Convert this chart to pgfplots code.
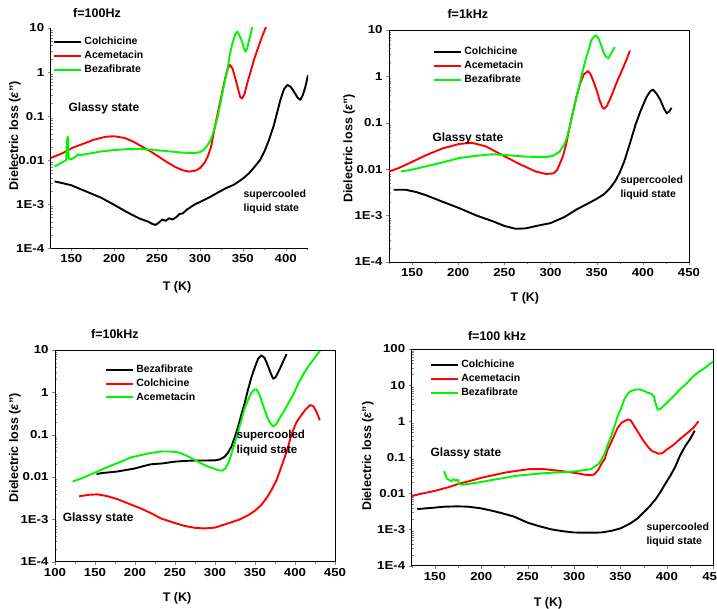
\documentclass[border=0pt]{standalone}
\usepackage{pgfplots}
\pgfplotsset{compat=1.18}
\usepackage{fontspec}
\setmainfont{Liberation Sans}
\setsansfont{Liberation Sans}
\newfontfamily\tickfont{Liberation Sans}[FakeStretch=1.15]
\definecolor{lgreen}{RGB}{0,245,0}
\definecolor{lred}{RGB}{255,0,0}
\newcommand{\fs}[1]{\fontsize{#1}{#1}\selectfont}
\pgfplotsset{
  every axis/.append style={
    scale only axis, ymode=log, log basis y=10,
    tick align=outside, xtick pos=bottom, ytick pos=left,
    ticklabel style={font=\tickfont\bfseries\fs{11.5}},
    xtick={100,150,...,450}, minor x tick num=1,
    xticklabel={\pgfmathparse{int(\tick)}\pgfmathresult},
    ytick={1e-4,1e-3,0.01,0.1,1,10,100},
    yticklabels={1E-4,1E-3,0.01,0.1,1,10,100},
    minor ytick={2e-4,3e-4,4e-4,5e-4,6e-4,7e-4,8e-4,9e-4,2e-3,3e-3,4e-3,5e-3,6e-3,7e-3,8e-3,9e-3,0.02,0.03,0.04,0.05,0.06,0.07,0.08,0.09,0.2,0.3,0.4,0.5,0.6,0.7,0.8,0.9,2,3,4,5,6,7,8,9,20,30,40,50,60,70,80,90},
    minor y tick style={xshift=2pt},
    ymin=1e-4,
    major tick length=3pt, minor tick length=2pt,
    axis line style={line width=0.6pt},
    xlabel={T (K)}, ylabel={Dielectric loss (\textit{ε}'')},
    label style={font=\bfseries\fs{12.5}},
    title style={font=\bfseries\fs{12.5}, anchor=center},
    legend style={draw=none, fill=none, font=\bfseries\fs{10.5}, inner sep=0pt, row sep=0.8pt, cells={anchor=west}},
  },
  every axis plot/.append style={line width=1.9pt, no marks, line join=round},
  every axis x label/.style={anchor=center},
  every axis y label/.style={anchor=center, rotate=90},
  legend image code/.code={\draw[#1, line width=2pt] (0pt,0pt) -- (27pt,0pt);},
}
\tikzset{
  glassy/.style={font=\bfseries\fs{12}},
  super/.style={font=\bfseries\fontsize{10.5}{14}\selectfont, align=left, anchor=west},
}
\begin{document}
\begin{tikzpicture}
\useasboundingbox (0pt,0pt) rectangle (717pt,-609pt);

% ---------------- f = 100 Hz ----------------
\begin{axis}[at={(50.7pt,-28pt)}, anchor=north west,
  width=257.3pt, height=220.3pt, xmin=126, xmax=426, ymax=10,
  axis x line*=bottom, axis y line*=left,
  title={f=100Hz}, title style={at={(axis description cs:0.18,1.041)}},
  xlabel style={at={(axis description cs:0.491,-0.176)}},
  ylabel style={at={(axis description cs:-0.139,0.51)}},
  legend style={at={(axis description cs:0.01,0.968)}, anchor=north west}]
\addplot[black] coordinates {(130.5,3.3e-3) (140,3.0e-3) (150,2.7e-3) (166,2.0e-3) (185,1.4e-3) (200,0.97e-3) (215,0.66e-3) (230,0.47e-3) (240,0.40e-3) (244,0.36e-3) (248,0.34e-3) (252,0.38e-3) (256,0.45e-3) (260,0.42e-3) (264,0.48e-3) (268,0.45e-3) (273,0.52e-3) (276,0.60e-3) (280,0.62e-3) (285,0.76e-3) (290,0.88e-3) (295,1.02e-3) (300,1.12e-3) (310,1.4e-3) (320,1.8e-3) (330,2.3e-3) (340,2.8e-3) (350,3.8e-3) (357,5.0e-3) (363,6.8e-3) (370,0.010) (375,0.0155) (380,0.027) (386,0.060) (390,0.12) (394,0.24) (398,0.41) (402,0.51) (406,0.46) (410,0.35) (414,0.26) (417,0.235) (420,0.30) (423,0.47) (426,0.85)};
\addplot[lred] coordinates {(126,0.0112) (140,0.0145) (150,0.0186) (165,0.024) (176,0.029) (190,0.034) (200,0.035) (212,0.032) (223,0.026) (235,0.019) (242,0.016) (252,0.012) (262,0.0089) (272,0.0069) (280,0.0059) (287,0.0055) (295,0.0058) (300,0.0066) (305,0.0085) (309,0.012) (313,0.020) (316,0.041) (320,0.10) (324,0.23) (328,0.55) (332,1.15) (335,1.45) (338,1.2) (341,0.75) (344,0.45) (347,0.27) (349,0.25) (352,0.32) (355,0.55) (359,1.0) (363,1.9) (367,3.2) (371,5.3) (374,7.6) (377,10.5)};
\addplot[lgreen] coordinates {(130.5,0.0072) (136,0.0082) (141,0.0093) (144,0.0100) (145,0.030) (146,0.034) (147,0.011) (150,0.0105) (155,0.0120) (158,0.0135) (160,0.0130) (170,0.0140) (185,0.0158) (200,0.0170) (215,0.0178) (230,0.0180) (245,0.0172) (262,0.0160) (280,0.0148) (293,0.0145) (300,0.0152) (305,0.0175) (309,0.022) (313,0.030) (316,0.045) (320,0.085) (324,0.20) (328,0.50) (332,1.1) (335,2.6) (338,4.6) (341,7.0) (343.5,8.3) (346,6.8) (349,5.0) (351,3.6) (353,2.9) (355,3.4) (357,5.0) (359,7.2) (361,10.5)};
\legend{Colchicine,Acemetacin,Bezafibrate}
\node[glassy] at (axis description cs:0.207,0.637) {Glassy state};
\node[super] at (axis description cs:0.736,0.21) {supercooled\\liquid state};
\end{axis}

% ---------------- f = 1 kHz ----------------
\begin{axis}[at={(389pt,-30pt)}, anchor=north west,
  width=300pt, height=232pt, xmin=125, xmax=450, ymax=10,
  title={f=1kHz}, title style={at={(axis description cs:0.263,1.043)}},
  xlabel style={at={(axis description cs:0.453,-0.155)}},
  ylabel style={at={(axis description cs:-0.133,0.49)}},
  legend style={at={(axis description cs:0.147,0.935)}, anchor=north west}]
\addplot[black] coordinates {(130,3.6e-3) (143,3.6e-3) (155,3.2e-3) (165,2.75e-3) (180,2.1e-3) (201,1.45e-3) (220,1.0e-3) (237,0.76e-3) (250,0.60e-3) (262,0.52e-3) (273,0.53e-3) (285,0.60e-3) (300,0.69e-3) (315,0.93e-3) (328,1.35e-3) (340,1.8e-3) (350,2.3e-3) (358,2.9e-3) (364,3.8e-3) (370,5.5e-3) (375,8.5e-3) (380,0.015) (386,0.036) (392,0.09) (397,0.17) (404,0.36) (408,0.48) (411,0.52) (415,0.42) (419,0.31) (423,0.20) (426,0.16) (429,0.18) (431,0.21)};
\addplot[lred] coordinates {(125,0.0089) (135,0.0105) (147,0.0135) (165,0.020) (183,0.028) (201,0.035) (215,0.037) (230,0.031) (248,0.020) (266,0.013) (284,0.0089) (295,0.0079) (303,0.0081) (307,0.0095) (310,0.013) (313.4,0.019) (317,0.035) (320.6,0.080) (324,0.16) (328,0.36) (332,0.70) (336,1.1) (340.6,1.3) (343,1.15) (346,0.83) (350,0.50) (353,0.31) (356,0.22) (358,0.20) (361,0.23) (364,0.31) (368,0.48) (371,0.69) (375,1.05) (379,1.6) (383,2.5) (386,3.6)};
\addplot[lgreen] coordinates {(137.7,0.0089) (150,0.0098) (165,0.0115) (180,0.0135) (201,0.0174) (220,0.0195) (237,0.021) (255,0.020) (273.5,0.0186) (295,0.0182) (303,0.0195) (309.8,0.024) (314,0.032) (317,0.043) (320,0.07) (324,0.16) (328,0.35) (331.5,0.69) (335,1.35) (338.8,2.6) (342,4.2) (344,5.9) (347,7.2) (349.6,7.6) (352,6.5) (355,4.6) (358,3.1) (360.5,2.6) (363,2.5) (366,3.2) (369.6,4.3)};
\legend{Colchicine,Acemetacin,Bezafibrate}
\node[glassy] at (axis description cs:0.263,0.534) {Glassy state};
\node[super] at (axis description cs:0.76,0.319) {supercooled\\liquid state};
\end{axis}

% ---------------- f = 10 kHz ----------------
\begin{axis}[at={(55pt,-350pt)}, anchor=north west,
  width=280pt, height=211.7pt, xmin=100, xmax=450, ymax=10,
  title={f=10kHz}, title style={at={(axis description cs:0.214,1.047)}},
  xlabel style={at={(axis description cs:0.436,-0.171)}},
  ylabel style={at={(axis description cs:-0.143,0.537)}},
  legend style={at={(axis description cs:0.179,0.939)}, anchor=north west}]
\addplot[black] coordinates {(152,0.0118) (160,0.0125) (170,0.0130) (178,0.0135) (190,0.0148) (199,0.0158) (210,0.0180) (220,0.020) (235,0.021) (249,0.023) (262,0.024) (274.5,0.0245) (287,0.0245) (300,0.0248) (306,0.026) (312,0.030) (316,0.037) (320.5,0.052) (325,0.09) (328.9,0.155) (333,0.30) (337,0.55) (341,1.1) (345.6,2.3) (350,4.0) (354,6.3) (358,7.5) (362,6.5) (366.5,4.1) (370,2.7) (372.8,2.1) (376,2.3) (379,3.0) (383,4.3) (386,5.8) (389.5,8.0)};
\addplot[lred] coordinates {(130,3.5e-3) (142,3.8e-3) (153,3.9e-3) (165,3.55e-3) (178,3.0e-3) (192,2.35e-3) (207.5,1.8e-3) (220,1.4e-3) (232.6,1.05e-3) (247,0.85e-3) (262,0.70e-3) (275,0.63e-3) (287,0.61e-3) (300,0.64e-3) (316,0.80e-3) (330,0.98e-3) (341.4,1.25e-3) (350,1.6e-3) (358,2.2e-3) (365,3.3e-3) (370.7,5.0e-3) (377,8.5e-3) (383,0.0175) (390,0.042) (396,0.107) (402,0.20) (408,0.29) (413,0.39) (419,0.50) (423,0.47) (427,0.34) (431,0.22)};
\addplot[lgreen] coordinates {(122,0.0078) (135,0.0096) (153,0.0135) (168,0.018) (182.4,0.023) (195,0.029) (207.5,0.033) (220,0.037) (232.6,0.040) (245,0.040) (255,0.038) (266,0.031) (277,0.024) (287,0.019) (298,0.016) (305,0.0143) (309,0.0142) (313,0.0160) (317,0.022) (320.5,0.035) (324.7,0.063) (329,0.12) (333,0.22) (337,0.42) (341.4,0.66) (345,0.95) (349,1.15) (352,1.18) (356,0.85) (360,0.50) (364,0.30) (368,0.20) (372.8,0.155) (377,0.18) (381,0.25) (386,0.35) (391.6,0.55) (398,0.90) (404,1.6) (410,2.6) (416.7,4.1) (424,6.3) (431,9.5)};
\legend{Bezafibrate,Colchicine,Acemetacin}
\node[glassy] at (axis description cs:0.154,0.206) {Glassy state};
\node[super, font=\bfseries\fontsize{11.5}{14.5}\selectfont] at (axis description cs:0.636,0.561) {supercooled\\liquid state};
\end{axis}

% ---------------- f = 100 kHz ----------------
\begin{axis}[at={(411.7pt,-349pt)}, anchor=north west,
  width=301.6pt, height=216.7pt, xmin=125, xmax=450, ymax=100,
  title={f=100 kHz}, title style={at={(axis description cs:0.283,1.032)}},
  xlabel style={at={(axis description cs:0.452,-0.172)}},
  ylabel style={at={(axis description cs:-0.145,0.506)}},
  legend style={at={(axis description cs:0.061,0.958)}, anchor=north west}]
\addplot[black] coordinates {(131,3.7e-3) (147,4.0e-3) (160,4.3e-3) (174,4.4e-3) (186,4.3e-3) (199,3.9e-3) (210,3.4e-3) (221,2.9e-3) (235,2.3e-3) (250,1.55e-3) (262,1.25e-3) (275,1.02e-3) (288,0.90e-3) (300,0.83e-3) (315,0.82e-3) (329,0.83e-3) (340,0.92e-3) (350,1.08e-3) (360,1.45e-3) (368,2.0e-3) (375,3.0e-3) (382,4.6e-3) (388,7.0e-3) (393,0.011) (398,0.018) (403.7,0.031) (409,0.055) (414,0.11) (420,0.21) (425,0.32) (430,0.55)};
\addplot[lred] coordinates {(125,0.0085) (135,0.0098) (150,0.0118) (165,0.0150) (176,0.0186) (190,0.023) (201,0.0275) (215,0.033) (226,0.038) (240,0.043) (251,0.047) (268,0.047) (286,0.042) (304,0.036) (312,0.033) (318,0.032) (322,0.034) (326,0.045) (330,0.070) (333,0.090) (336,0.16) (340,0.26) (344,0.45) (347,0.66) (351,0.90) (354,1.0) (358,1.12) (361,1.05) (366,0.66) (370,0.45) (375,0.28) (380,0.19) (384,0.15) (391,0.126) (395,0.13) (400,0.165) (407,0.22) (414,0.32) (421,0.45) (428.6,0.66) (434,1.0)};
\addplot[lgreen] coordinates {(160,0.042) (161,0.034) (162,0.030) (163,0.026) (165,0.024) (168,0.022) (170,0.025) (172,0.023) (175,0.024) (176,0.018) (180,0.0175) (190,0.019) (201,0.021) (213,0.024) (225,0.027) (238,0.031) (250,0.033) (265,0.036) (279,0.038) (290,0.039) (300.5,0.041) (310,0.044) (318,0.047) (322,0.055) (326,0.064) (330,0.09) (333,0.13) (337,0.25) (340,0.39) (344,0.80) (347,1.38) (351,2.4) (354,4.0) (358,5.9) (361,6.8) (366,7.5) (370,7.6) (375,7.0) (379,6.2) (383,5.8) (386,4.9) (388,3.0) (390,2.1) (393,2.2) (398,2.9) (403.7,4.0) (409,5.5) (414,7.6) (421,11) (428.6,17.8) (435,24) (441,30) (447,40) (450,45)};
\legend{Colchicine,Acemetacin,Bezafibrate}
\node[glassy] at (axis description cs:0.18,0.52) {Glassy state};
\node[super] at (axis description cs:0.767,0.142) {supercooled\\liquid state};
\end{axis}
\end{tikzpicture}
\end{document}
